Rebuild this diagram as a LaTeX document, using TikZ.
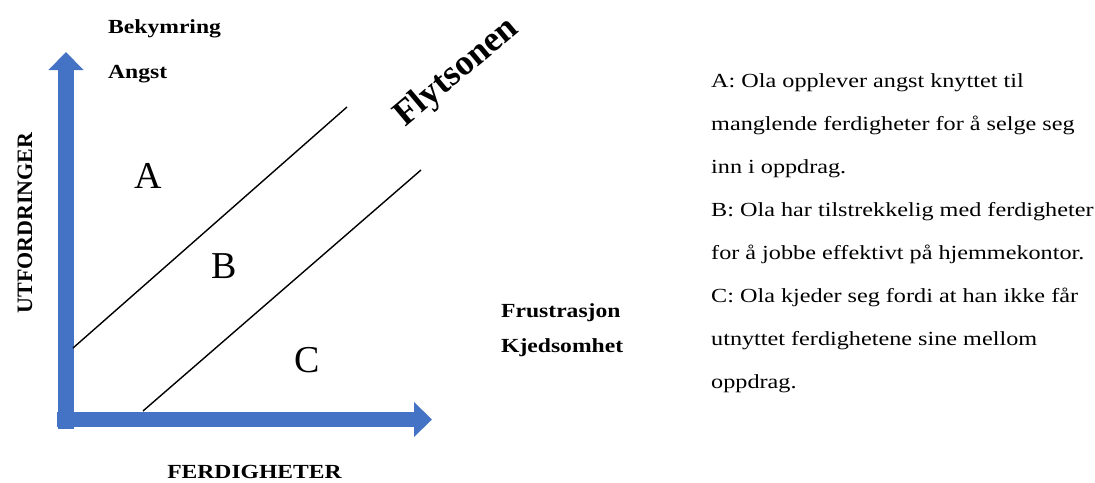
\documentclass[tikz,border=0pt]{standalone}
\usepackage{fontspec}
\setmainfont{Liberation Serif}
\newfontfamily\widefont[FakeStretch=1.18]{Liberation Serif}
\newfontfamily\descfont[FakeStretch=1.21]{Liberation Serif}
\usetikzlibrary{arrows.meta}
\definecolor{axisblue}{HTML}{4472C4}
\begin{document}
\begin{tikzpicture}[x=1pt,y=-1pt,
  axis/.style={line width=15.5pt, draw=axisblue, -{Triangle[width=34pt,length=18pt]}},
  zone/.style={line width=1.4pt, black},
  boldlabel/.style={inner sep=0pt, anchor=base west, font=\widefont\bfseries\fontsize{20}{24}\selectfont},
  zonelabel/.style={inner sep=0pt, anchor=base, font=\fontsize{38}{44}\selectfont},
  axislabel/.style={inner sep=0pt, anchor=base, font=\bfseries\fontsize{22}{26}\selectfont}]
\useasboundingbox (0,0) rectangle (1095,482);
% axes
\coordinate (ybot) at (66,429);
\coordinate (ytip) at (66,52);
\coordinate (xleft) at (57,419.5);
\coordinate (xtip) at (432,419.5);
\draw[axis] (ybot) -- (ytip);
\draw[axis] (xleft) -- (xtip);
% zone lines
\coordinate (l1a) at (73,348);
\coordinate (l1b) at (347,107);
\coordinate (l2a) at (143,411);
\coordinate (l2b) at (421,170);
\draw[zone] (l1a) -- (l1b);
\draw[zone] (l2a) -- (l2b);
% labels
\node[boldlabel] (bek) at (108,33) {Bekymring};
\node[boldlabel] (ang) at (108,78) {Angst};
\node[boldlabel] (fru) at (501,317) {Frustrasjon};
\node[boldlabel] (kje) at (501,352) {Kjedsomhet};
\node[boldlabel, anchor=base] (ferd) at (254.5,478) {FERDIGHETER};
\node[axislabel, rotate=90] (utf) at (32,223) {UTFORDRINGER};
\node[zonelabel] (A) at (148,188) {A};
\node[zonelabel] (B) at (224,278) {B};
\node[zonelabel] (C) at (307,372) {C};
\node[inner sep=0pt, rotate=40, font=\bfseries\fontsize{36}{42}\selectfont] (flyt) at (457,73) {Flytsonen};
% description
\node[inner sep=0pt, anchor=north west, align=left, font=\descfont\fontsize{20}{43}\selectfont] (desc) at (711,73.3) {%
A: Ola opplever angst knyttet til\\
manglende ferdigheter for å selge seg\\
inn i oppdrag.\\
B: Ola har tilstrekkelig med ferdigheter\\
for å jobbe effektivt på hjemmekontor.\\
C: Ola kjeder seg fordi at han ikke får\\
utnyttet ferdighetene sine mellom\\
oppdrag.};
\end{tikzpicture}
\end{document}
